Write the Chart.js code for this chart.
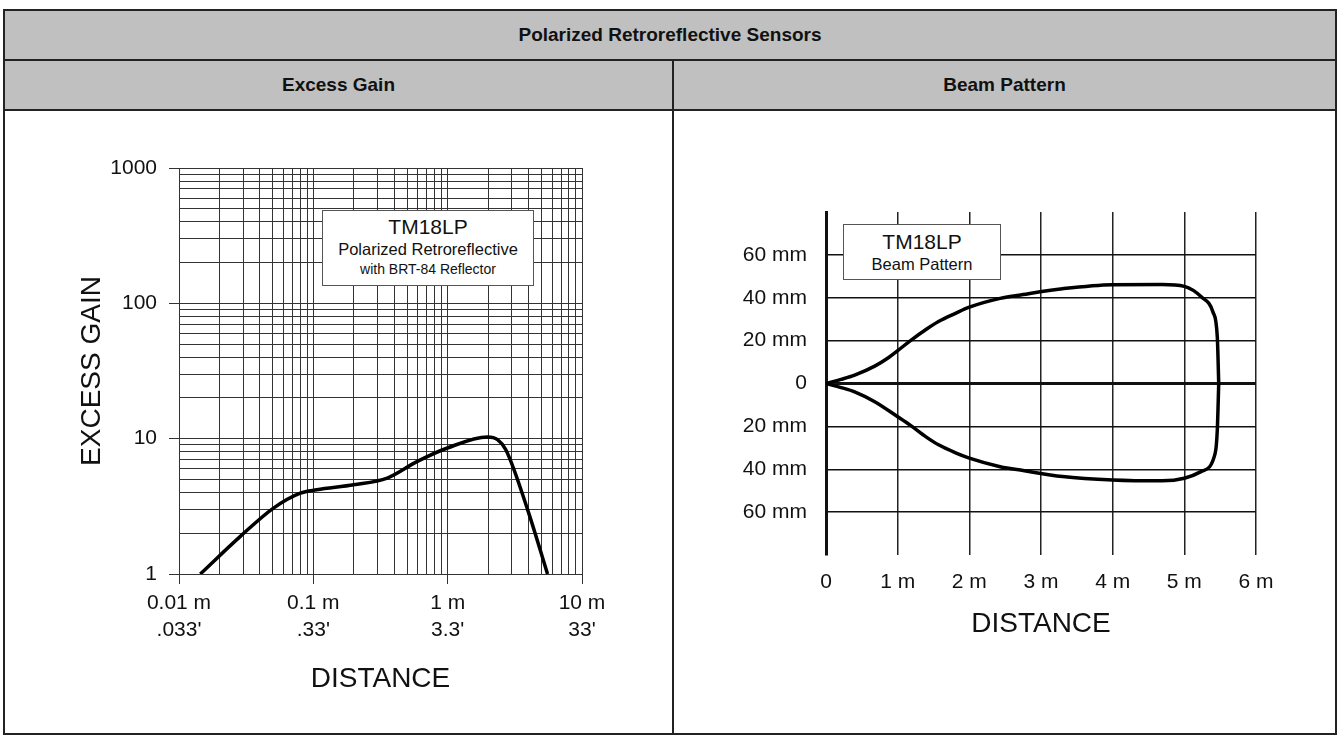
<!DOCTYPE html>
<html lang="en">
  <head>
    <meta charset="UTF-8" />
    <title>Polarized Retroreflective Sensors</title>
    <script src="https://cdn.jsdelivr.net/npm/chart.js"></script>
    <style>
      * {
        margin: 0;
        padding: 0;
        box-sizing: border-box;
        font-family: "Liberation Sans", Arial, sans-serif;
      }

      body {
        width: 1340px;
        height: 744px;
        position: relative;
        overflow: hidden;
        background: #fff;
        color: #111;
      }

      /* Table frame */
      .box {
        position: absolute;
        border: 2px solid #222;
      }

      .head {
        background: #c0c0c0;
        font-weight: bold;
        font-size: 19px;
        text-align: center;
        line-height: 48px;
      }

      .plot {
        position: absolute;
        top: 111px;
        height: 622px;
      }

      /* Little caption boxes inside the charts */
      .caption {
        position: absolute;
        background: #fff;
        border: 1px solid #555;
        text-align: center;
        z-index: 5;
      }
    </style>
  </head>
  <body>
    <div class="box head" style="left: 3px; top: 9px; width: 1334px; height: 52px">
      Polarized Retroreflective Sensors
    </div>
    <div class="box head" style="left: 3px; top: 59px; width: 671px; height: 52px">Excess Gain</div>
    <div class="box head" style="left: 672px; top: 59px; width: 665px; height: 52px">Beam Pattern</div>
    <div class="box" style="left: 3px; top: 109px; width: 671px; height: 626px"></div>
    <div class="box" style="left: 672px; top: 109px; width: 665px; height: 626px"></div>

    <div class="plot" style="left: 5px; width: 667px">
      <canvas id="gainChart" width="667" height="622"></canvas>
    </div>
    <div class="plot" style="left: 674px; width: 661px">
      <canvas id="beamChart" width="661" height="622"></canvas>
    </div>

    <div class="caption" style="left: 322px; top: 210px; width: 212px; height: 76px; padding-top: 4px">
      <div style="font-size: 21px; line-height: 24px">TM18LP</div>
      <div style="font-size: 16.5px; line-height: 20px">Polarized Retroreflective</div>
      <div style="font-size: 14px; line-height: 20px">with BRT-84 Reflector</div>
    </div>
    <div class="caption" style="left: 843px; top: 224px; width: 158px; height: 56px; padding-top: 5px">
      <div style="font-size: 21px; line-height: 24px">TM18LP</div>
      <div style="font-size: 16.5px; line-height: 20px">Beam Pattern</div>
    </div>

    <script>
      // Excess gain curve (distance in m, gain)
      const gainDistance = [0.0144, 0.0285, 0.0505, 0.08, 0.106, 0.2, 0.355, 0.595, 0.995, 1.98, 2.35, 2.71, 3.94, 5.54];
      const gainValue = [1.0, 1.89, 3.07, 3.96, 4.19, 4.56, 5.11, 6.79, 8.53, 10.3, 9.84, 8.29, 2.98, 1.0];

      const xDecades = [0.01, 0.1, 1, 10];
      const xLabelsM = ["0.01 m", "0.1 m", "1 m", "10 m"];
      const xLabelsFt = [".033'", ".33'", "3.3'", "33'"];
      const yDecades = [1, 10, 100, 1000];
      const yLabels = ["1", "10", "100", "1000"];

      // Beam pattern (distance in m, half width in mm)
      const beamDistUpper = [0, 0.21, 0.4, 0.68, 0.87, 1.0, 1.17, 1.4, 1.57, 1.8, 2.0, 2.43, 2.75, 3.3, 4.0, 4.69, 5.0, 5.24, 5.4, 5.46, 5.48];
      const beamUpper = [0, 1.9, 3.9, 8.1, 12, 15.3, 19.8, 25.3, 28.9, 32.6, 35.6, 39.7, 41.5, 44.2, 46.1, 46.2, 45.3, 40.3, 33.3, 21.7, 0];
      const beamDistLower = [0, 0.21, 0.4, 0.68, 1.0, 1.17, 1.4, 1.57, 1.8, 2.0, 2.43, 2.75, 3.3, 4.0, 4.69, 5.0, 5.24, 5.43, 5.46, 5.48];
      const beamLower = [0, -1.9, -3.9, -8.5, -15.5, -19.3, -25, -28.6, -32.2, -34.8, -38.8, -40.6, -43.4, -45, -45.4, -44.2, -41, -32.6, -21.7, 0];

      const beamXTicks = ["0", "1 m", "2 m", "3 m", "4 m", "5 m", "6 m"];

      Chart.defaults.font.family = "'Liberation Sans', Arial, sans-serif";
      Chart.defaults.color = "#111";
      Chart.defaults.animation = false;

      const multiples = [1, 2, 3, 4, 5, 6, 7, 8, 9];
      function logGrid(decades) {
        const out = [];
        decades.forEach((d, i) => {
          if (i === decades.length - 1) {
            out.push(d);
          } else {
            multiples.forEach((m) => out.push(+(d * m).toPrecision(6)));
          }
        });
        return out.map((v) => ({ value: v }));
      }

      new Chart(document.getElementById("gainChart"), {
        type: "scatter",
        data: {
          datasets: [
            {
              data: gainDistance.map((d, i) => ({ x: d, y: gainValue[i] })),
              showLine: true,
              borderColor: "#000",
              borderWidth: 3.5,
              pointRadius: 0,
              cubicInterpolationMode: "monotone",
            },
          ],
        },
        options: {
          responsive: false,
          layout: { padding: { left: 0, top: 57, right: 90, bottom: 0 } },
          plugins: { legend: { display: false }, tooltip: { enabled: false } },
          scales: {
            x: {
              type: "logarithmic",
              min: 0.01,
              max: 10,
              afterBuildTicks: (axis) => {
                axis.ticks = logGrid(xDecades);
              },
              afterFit: (axis) => {
                axis.height = 159;
              },
              grid: {
                color: "#333",
                lineWidth: 1,
                tickLength: 10,
                tickColor: (ctx) => (xDecades.includes(ctx.tick.value) ? "#333" : "transparent"),
              },
              border: { color: "#333", width: 1 },
              ticks: {
                autoSkip: false,
                maxRotation: 0,
                padding: 5.5,
                font: { size: 21, lineHeight: 1.3 },
                callback: (v) => {
                  const i = xDecades.indexOf(v);
                  return i < 0 ? "" : [xLabelsM[i], xLabelsFt[i]];
                },
              },
              title: {
                display: true,
                text: "DISTANCE",
                font: { size: 28 },
                padding: { top: 0, bottom: 37 },
              },
            },
            y: {
              type: "logarithmic",
              min: 1,
              max: 1000,
              afterBuildTicks: (axis) => {
                axis.ticks = logGrid(yDecades);
              },
              afterFit: (axis) => {
                axis.width = 174;
              },
              grid: {
                color: "#333",
                lineWidth: 1,
                tickLength: 10,
                tickColor: (ctx) => (yDecades.includes(ctx.tick.value) ? "#333" : "transparent"),
              },
              border: { color: "#333", width: 1 },
              ticks: {
                autoSkip: false,
                padding: 12,
                font: { size: 21 },
                callback: (v) => {
                  const i = yDecades.indexOf(v);
                  return i < 0 ? "" : yLabels[i];
                },
              },
              title: {
                display: true,
                text: "EXCESS GAIN",
                font: { size: 28 },
                padding: { top: 70, bottom: 0 },
              },
            },
          },
        },
      });

      const beamLine = {
        showLine: true,
        borderColor: "#000",
        borderWidth: 3.5,
        pointRadius: 0,
        cubicInterpolationMode: "monotone",
      };

      new Chart(document.getElementById("beamChart"), {
        type: "scatter",
        data: {
          datasets: [
            { ...beamLine, data: beamDistUpper.map((d, i) => ({ x: d, y: beamUpper[i] })) },
            { ...beamLine, data: beamDistLower.map((d, i) => ({ x: d, y: beamLower[i] })) },
          ],
        },
        options: {
          responsive: false,
          layout: { padding: { left: 0, top: 101, right: 79, bottom: 0 } },
          plugins: { legend: { display: false }, tooltip: { enabled: false } },
          scales: {
            x: {
              type: "linear",
              min: 0,
              max: 6,
              afterFit: (axis) => {
                axis.height = 178;
              },
              grid: { color: "#222", lineWidth: 1.5, drawTicks: false },
              border: { display: false },
              ticks: {
                stepSize: 1,
                padding: 14,
                font: { size: 21, lineHeight: 1.3 },
                callback: (v) => beamXTicks[v] ?? "",
              },
              title: {
                display: true,
                text: "DISTANCE",
                font: { size: 28 },
                padding: { top: 0, bottom: 92 },
              },
            },
            y: {
              type: "linear",
              min: -80,
              max: 80,
              afterFit: (axis) => {
                axis.width = 152;
              },
              grid: {
                drawTicks: false,
                color: (ctx) => (Math.abs(ctx.tick.value) === 80 ? "transparent" : "#111"),
                lineWidth: (ctx) => (ctx.tick.value === 0 ? 3 : 1.5),
              },
              border: { color: "#111", width: 3 },
              ticks: {
                stepSize: 20,
                padding: 19,
                font: { size: 21 },
                callback: (v) => (Math.abs(v) === 80 ? "" : v === 0 ? "0" : Math.abs(v) + " mm"),
              },
            },
          },
        },
      });
    </script>
  </body>
</html>
